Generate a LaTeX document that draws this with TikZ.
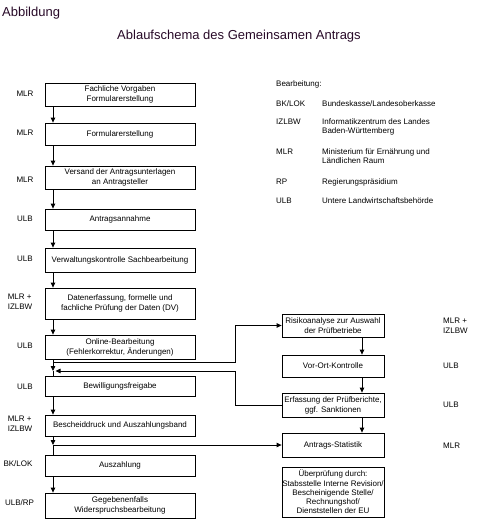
\documentclass[tikz,border=0pt]{standalone}
\usepackage{fontspec}
\setmainfont{Liberation Sans}
\usetikzlibrary{arrows.meta}
\definecolor{titlecol}{RGB}{40,10,40}
\begin{document}
\begin{tikzpicture}[x=1pt,y=-1pt,
  box/.style={draw, line width=0.8pt, inner sep=0pt, align=center, font=\fontsize{8}{10}\selectfont},
  lbox/.style={box, minimum width=150pt},
  rbox/.style={box, minimum width=102pt},
  arr/.style={line width=0.8pt, -{Triangle[length=5pt,width=4.5pt]}},
  ln/.style={line width=0.8pt},
  lab/.style={font=\fontsize{8}{10}\selectfont, inner sep=0pt, align=left},
  ttl/.style={font=\fontsize{13}{15}\selectfont, text=titlecol, inner sep=0pt}]
\useasboundingbox (0,0) rectangle (481,522);
% titles
\node[ttl, anchor=west] (t0) at (2,13) {Abbildung};
\node[ttl] (t1) at (239,36) {Ablaufschema des Gemeinsamen Antrags};
% left column
\node[lbox, minimum height=23pt] (b1) at (120,94.5) {Fachliche Vorgaben\\Formularerstellung};
\node[lbox, minimum height=22pt] (b2) at (120,134) {Formularerstellung};
\node[lbox, minimum height=23pt] (b3) at (120,177.5) {Versand der Antragsunterlagen\\an Antragsteller};
\node[lbox, minimum height=21pt] (b4) at (120,219.5) {Antragsannahme};
\node[lbox, minimum height=24pt] (b5) at (120,260) {Verwaltungskontrolle Sachbearbeitung};
\node[lbox, minimum height=31pt] (b6) at (120,303.5) {Datenerfassung, formelle und\\fachliche Prüfung der Daten (DV)};
\node[lbox, minimum height=24pt] (b7) at (120,347) {Online-Bearbeitung\\(Fehlerkorrektur, Änderungen)};
\node[lbox, minimum height=20pt] (b8) at (120,386) {Bewilligungsfreigabe};
\node[lbox, minimum height=21pt] (b9) at (120,425.5) {Bescheiddruck und Auszahlungsband};
\node[lbox, minimum height=21pt] (b10) at (120,465.5) {Auszahlung};
\node[lbox, minimum height=25pt] (b11) at (120,505.5) {Gegebenenfalls\\Widerspruchsbearbeitung};
% right column
\node[rbox, minimum height=23pt] (r1) at (333,325.5) {Risikoanalyse zur Auswahl\\der Prüfbetriebe};
\node[rbox, minimum height=22pt] (r2) at (333,366) {Vor-Ort-Kontrolle};
\node[rbox, minimum height=24pt] (r3) at (333,405) {Erfassung der Prüfberichte,\\ggf. Sanktionen};
\node[rbox, minimum height=24pt] (r4) at (333,445) {Antrags-Statistik};
\node[box, minimum width=102pt, minimum height=50pt, font=\fontsize{8}{9.3}\selectfont] (r5) at (333,492) {Überprüfung durch:\\Stabsstelle Interne Revision/\\Bescheinigende Stelle/\\Rechnungshof/\\Dienststellen der EU};
% left labels
\node[lab] (l1) at (25,94) {MLR};
\node[lab] (l2) at (25,133) {MLR};
\node[lab] (l3) at (25,180) {MLR};
\node[lab] (l4) at (25,219) {ULB};
\node[lab] (l5) at (25,259) {ULB};
\node[lab] (l6) at (20,302) {MLR +\\IZLBW};
\node[lab] (l7) at (25,346) {ULB};
\node[lab] (l8) at (25,387) {ULB};
\node[lab] (l9) at (20,424) {MLR +\\IZLBW};
\node[lab] (l10) at (18,464) {BK/LOK};
\node[lab] (l11) at (19.5,503) {ULB/RP};
% right labels
\node[lab, anchor=west] (q1) at (443,326) {MLR +\\IZLBW};
\node[lab, anchor=west] (q2) at (443,366) {ULB};
\node[lab, anchor=west] (q3) at (443,405) {ULB};
\node[lab, anchor=west] (q4) at (443,446) {MLR};
% legend
\node[lab, anchor=west] (g0) at (276,84) {Bearbeitung:};
\node[lab, anchor=west] (g1) at (276,104) {BK/LOK};
\node[lab, anchor=west] (g1t) at (322,104) {Bundeskasse/Landesoberkasse};
\node[lab, anchor=west] (g2) at (276,122) {IZLBW};
\node[lab, anchor=west] (g2t) at (322,122) {Informatikzentrum des Landes};
\node[lab, anchor=west] (g2u) at (322,131) {Baden-Württemberg};
\node[lab, anchor=west] (g3) at (276,152) {MLR};
\node[lab, anchor=west] (g3t) at (322,152) {Ministerium für Ernährung und};
\node[lab, anchor=west] (g3u) at (322,161) {Ländlichen Raum};
\node[lab, anchor=west] (g4) at (276,182) {RP};
\node[lab, anchor=west] (g4t) at (322,182) {Regierungspräsidium};
\node[lab, anchor=west] (g5) at (276,201) {ULB};
\node[lab, anchor=west] (g5t) at (322,201) {Untere Landwirtschaftsbehörde};
% connectors
\coordinate (L) at (53,0);
\coordinate (R) at (362,0);
\coordinate (k) at (235,0);
\coordinate (o7) at (53,362);
\coordinate (j1) at (53,371);
\coordinate (j1r) at (55.5,371);
\coordinate (j2) at (53,445);
\foreach \a/\b in {b1/b2,b2/b3,b3/b4,b4/b5,b5/b6,b6/b7,b8/b9,b10/b11}
  \draw[arr] (\a.south -| L) -- (\b.north -| L);
\draw[arr] (b7.south -| L) -- (j1);
\draw[ln] (j1) -- (b8.north -| L);
\draw[arr] (b9.south -| L) -- (j2);
\draw[ln] (j2) -- (b10.north -| L);
\draw[arr] (o7) -- (o7 -| k) |- (r1.west);
\draw[arr] (r3.west) -- (r3.west -| k) |- (j1r);
\draw[arr] (j2) -- (r4.west);
\foreach \a/\b in {r1/r2,r2/r3,r3/r4}
  \draw[arr] (\a.south -| R) -- (\b.north -| R);
\end{tikzpicture}
\end{document}
